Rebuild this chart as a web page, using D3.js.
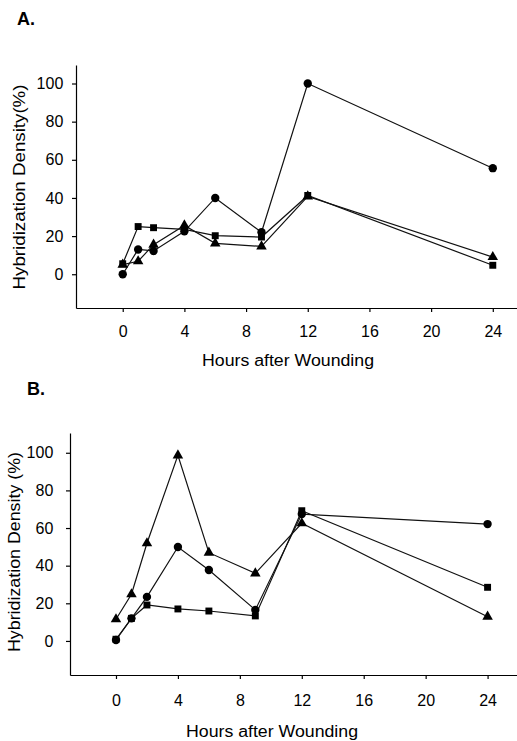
<!DOCTYPE html>
<html>
<head>
<meta charset="utf-8">
<script src="https://cdn.jsdelivr.net/npm/d3@7"></script>
<style>
  body { margin: 0; background: #fff; }
  svg { font-family: "Liberation Sans", Arial, sans-serif; }
  .axis path, .axis line { stroke: #000; stroke-width: 1.2px; }
  .axis text { font-size: 16px; fill: #000; }
</style>
</head>
<body>
<div id="chart"></div>
<script>
// hours sampled after wounding
const hours = [0, 1, 2, 4, 6, 9, 12, 24];
const xTicks = [0, 4, 8, 12, 16, 20, 24];
const yTicks = [0, 20, 40, 60, 80, 100];

// panel A
const aCircle   = [0, 13, 12.2, 22.5, 40, 22, 100, 55.6];
const aSquare   = [5.5, 25, 24.4, 23.5, 20.2, 19.5, 41.3, 4.7];
const aTriangle = [5, 6.8, 15.5, 25.6, 16.2, 14.6, 40.8, 9];

// panel B
const bCircle   = [0.5, 12, 23.4, 49.9, 37.7, 16.5, 67.4, 62.1];
const bSquare   = [0.9, 12, 19.1, 17, 15.9, 13.3, 69.2, 28.5];
const bTriangle = [11.5, 24.8, 51.9, 98.6, 46.9, 35.9, 62.5, 12.9];

var svg = d3.select('#chart').append('svg')
    .attr('width', 517).attr('height', 741);

var panels = [
    { title: 'A.', tx: 17, ty: 25, ylabel: 'Hybridization Density(%)', ylabelLen: 205,
      left: 76, right: 517, top: 65, bottom: 308,
      xdom: [-3.03, 25.57], ydom: [-17.7, 109.7], ypad: 8.7, xpad: 14,
      labX: 19, labY: 187, xlabX: 288, xlabY: 366, xlabLen: 172,
      series: [
          { shape: 'circle', vals: aCircle },
          { shape: 'square', vals: aSquare },
          { shape: 'triangle', vals: aTriangle }
      ] },
    { title: 'B.', tx: 27, ty: 395, ylabel: 'Hybridization Density (%)', ylabelLen: 200,
      left: 70, right: 517, top: 433, bottom: 675,
      xdom: [-2.97, 25.9], ydom: [-18.1, 110.5], ypad: 12.7, xpad: 16,
      labX: 14, labY: 552, xlabX: 272, xlabY: 737, xlabLen: 172,
      series: [
          { shape: 'square', vals: bSquare },
          { shape: 'circle', vals: bCircle },
          { shape: 'triangle', vals: bTriangle }
      ] }
];

var symbols = {
    circle: d3.symbol().type(d3.symbolCircle).size(55),
    square: d3.symbol().type(d3.symbolSquare).size(48),
    triangle: d3.symbol().type(d3.symbolTriangle).size(48)
};

panels.forEach((p) => {
    var x = d3.scaleLinear().domain(p.xdom).range([p.left, p.right]);
    var y = d3.scaleLinear().domain(p.ydom).range([p.bottom, p.top]);

    svg.append('text')
        .attr('x', p.tx).attr('y', p.ty)
        .style('font-size', '18px').style('font-weight', 'bold')
        .text(p.title);

    svg.append('g').attr('class', 'axis')
        .attr('transform', 'translate(0,' + p.bottom + ')')
        .call(d3.axisBottom(x).tickValues(xTicks).tickSize(4).tickSizeOuter(0).tickPadding(p.xpad));
    svg.append('g').attr('class', 'axis')
        .attr('transform', 'translate(' + p.left + ',0)')
        .call(d3.axisLeft(y).tickValues(yTicks).tickSize(4).tickSizeOuter(0).tickPadding(p.ypad));

    svg.append('text')
        .attr('transform', 'translate(' + p.labX + ',' + p.labY + ') rotate(-90)')
        .attr('text-anchor', 'middle').attr('dy', '0.35em')
        .attr('textLength', p.ylabelLen).attr('lengthAdjust', 'spacingAndGlyphs')
        .style('font-size', '16px')
        .text(p.ylabel);

    svg.append('text')
        .attr('x', p.xlabX).attr('y', p.xlabY)
        .attr('text-anchor', 'middle')
        .attr('textLength', p.xlabLen).attr('lengthAdjust', 'spacingAndGlyphs')
        .style('font-size', '16px')
        .text('Hours after Wounding');

    var line = d3.line()
        .x((d) => x(d[0]))
        .y((d) => y(d[1]));

    p.series.forEach((s) => {
        var pts = hours.map((h, i) => [h, s.vals[i]]);
        svg.append('path')
            .datum(pts)
            .attr('d', line)
            .attr('fill', 'none')
            .attr('stroke', '#111')
            .attr('stroke-width', 1.2);
        svg.append('g')
            .selectAll('path')
            .data(pts)
            .enter()
            .append('path')
            .attr('d', symbols[s.shape])
            .attr('transform', (d) => 'translate(' + x(d[0]) + ',' + y(d[1]) + ')')
            .attr('fill', '#000');
    });
});
</script>
</body>
</html>
